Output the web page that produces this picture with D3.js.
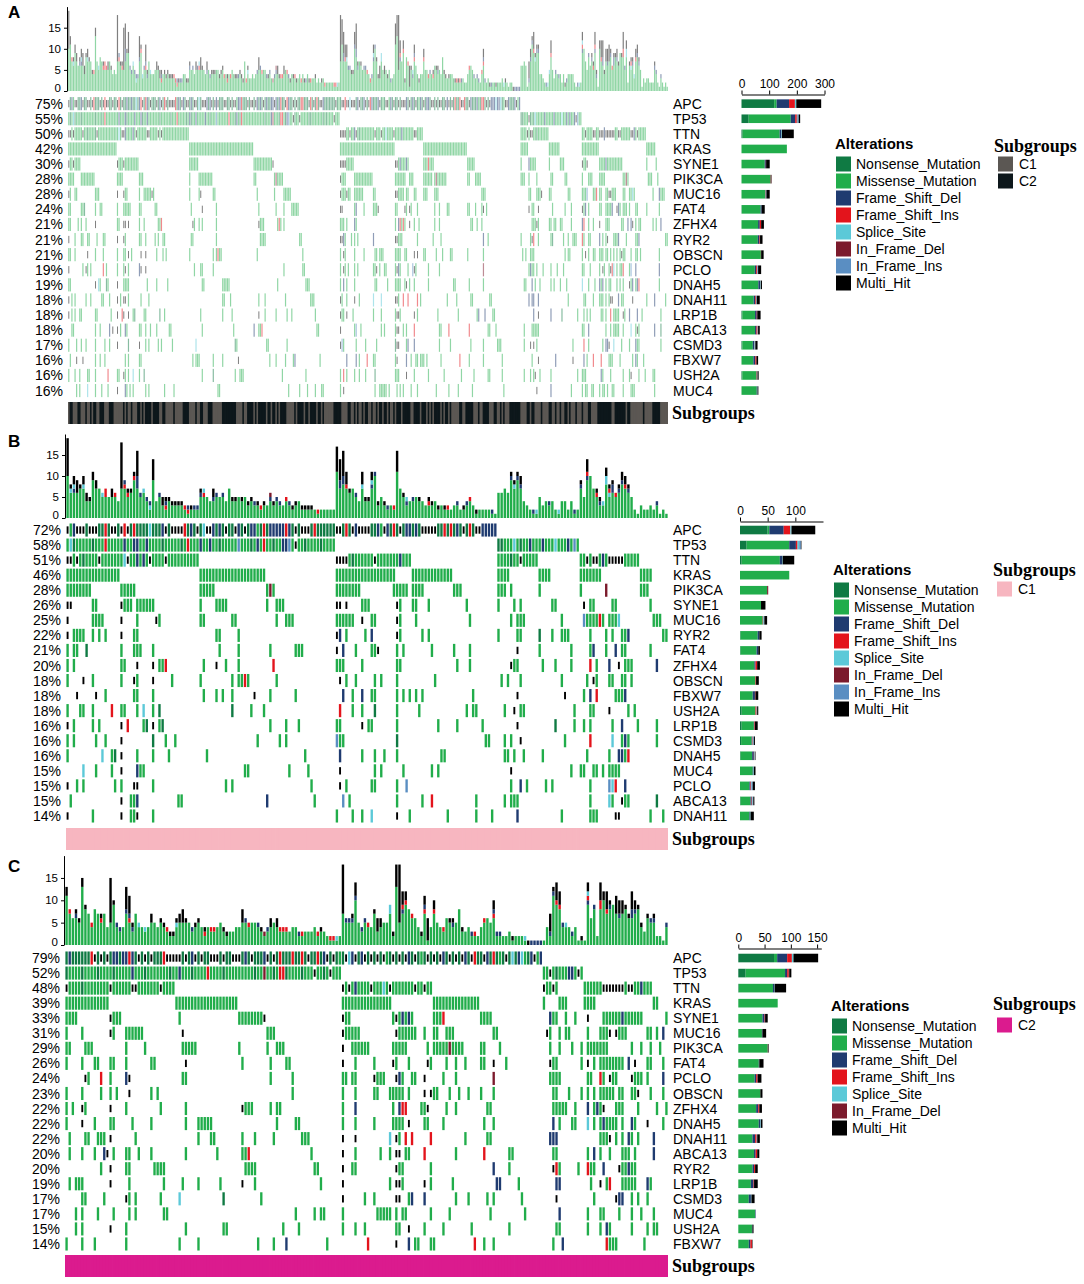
<!DOCTYPE html>
<html>
<head>
<meta charset="utf-8">
<script src="https://cdnjs.cloudflare.com/ajax/libs/d3/7.8.5/d3.min.js"></script>
<style>
body { margin: 0; background: #fff; }
text { font-family: "Liberation Sans", Arial, sans-serif; fill: #000; }
</style>
</head>
<body>
<script>
// variant classes in legend / stacking order
let varCodes = ["n", "g", "b", "r", "c", "d", "i", "m"];
let varNames = ["Nonsense_Mutation", "Missense_Mutation", "Frame_Shift_Del", "Frame_Shift_Ins",
  "Splice_Site", "In_Frame_Del", "In_Frame_Ins", "Multi_Hit"];
let varColors = ["#0f7a43", "#21ad4b", "#1f3b70", "#e3141c", "#5cc9d8", "#7b1a2c", "#5a8ec2", "#000000"];

let genesA = ["APC", "TP53", "TTN", "KRAS", "SYNE1", "PIK3CA", "MUC16", "FAT4", "ZFHX4", "RYR2",
  "OBSCN", "PCLO", "DNAH5", "DNAH11", "LRP1B", "ABCA13", "CSMD3", "FBXW7", "USH2A", "MUC4"];
let pctA = [75, 55, 50, 42, 30, 28, 28, 24, 21, 21, 21, 19, 19, 18, 18, 18, 17, 16, 16, 16];

let genesB = ["APC", "TP53", "TTN", "KRAS", "PIK3CA", "SYNE1", "MUC16", "RYR2", "FAT4", "ZFHX4",
  "OBSCN", "FBXW7", "USH2A", "LRP1B", "CSMD3", "DNAH5", "MUC4", "PCLO", "ABCA13", "DNAH11"];
let pctB = [72, 58, 51, 46, 28, 26, 25, 22, 21, 20, 18, 18, 18, 16, 16, 16, 15, 15, 15, 14];

let genesC = ["APC", "TP53", "TTN", "KRAS", "SYNE1", "MUC16", "PIK3CA", "FAT4", "PCLO", "OBSCN",
  "ZFHX4", "DNAH5", "DNAH11", "ABCA13", "RYR2", "LRP1B", "CSMD3", "MUC4", "USH2A", "FBXW7"];
let pctC = [79, 52, 48, 39, 33, 31, 29, 26, 24, 23, 22, 22, 22, 20, 20, 19, 17, 17, 15, 14];

// mutated samples per gene (sample index, range a-b, or start:typestring); letter = class, default missense
let rowsB = [
  "0:mgbmmmnmmm 10:nnrnmmnmrm 20:nrnnnncnnn 30:bmnmmmmrnb 40:nmncmmbnbn 50:mnnmbnmnbb 60:gnrnbbbbbr 70:bnmnmmmnrn 80:nnnnnmmnrn 90:mbmmmmnnbg 100:mbnrnmnbbn 110:bnmmmmmnnr 120:nrnbnmnrnm 130:mbbbbb",
  "0-84 136-161 1c 2n 8n 12r 18b 21b 22b 25b 30n 36n 38r 42b 45b 48n 54i 58n 60b 62r 65n 68b 69b 70i 72m 75n 80n 136n 137n 141c 143n 146b 150b 154c 158b 160i",
  "0-41 0m 1m 3m 10m 18c 19m 22b 24b 26m 31m 5n 85-108 85m 86m 87m 88m 97m 105b 90n 136-148 143m 140n 162-180 164m 166m 167m 169b 171m 172m 173m 174m 175m",
  "0-16 42-62 85-103 109-121 136-139 149-152 162-168 181-184",
  "0-7 17-21 42-46 63 64d 65 85-92 103-107 109-112 122-124 136-138 140 149 162 170d 181-183",
  "0m 1m 8-9 17m 18-20 22-27 42 47-50 63 66-68 85m 86m 88m 93-95 104m 105 109-110 114 126 136 141 143 153-154 163m 165-166 172-173 184",
  "0m 8-11 17m 22 28m 29 42-43 52-53 66 69-71 85-90 93m 96-97 104m 105 110 127 140 142-144 156 163i 164-167 168r 169 171-173 174c 185-187",
  "0m 2-5 8 10 12 17m 21-22 47-48 54 85m 86b 88 94 96b 104m 105 112 114 136 142-143 149n 153 156-158 165 170 172 175-176 177b 188-189",
  "0 2-3 6n 17 21-23 27 48 54 64 72-74 85m 87b 91 96-97 98m 104 106 115 122 127 142m 149 159 165 166b 170 173b 175-176 184",
  "0 2 17-18 22m 27m 29-30 31r 43 47m 50 54 65r 85-87 93 104-105 123 127 140m 141-142 150 154 159 165r 167 171b 174m 176-178 186b",
  "0 5m 8 17 21m 22 27m 33 42 52 54-55 56r 57 66 86m 88 91 97 99 104 116 137 139 143 156 164 166m 167 171-172 175-176 178",
  "3m 9m 12 21-22 27 43 47 49 52 59m 64 72 87b 90 93b 96-97 104 106 108 110 112 128 142m 157m 163 165b 167r 173-175 176b",
  "0 4-5 8 14r 17-18 22 24c 27 29n 52n 58 62 86r 90 93 97n 104 111 126 128-129 138 141m 143-144 160 165-166 171m 177 179",
  "0m 2 8 10 17m 19r 24 25n 27m 29 30n 64 69 73 85-86 93m 95-96 104 117 123 131 142m 154n 160 163 165 172 175b 180 186",
  "0 2 9 12 17m 27n 31 34 60 67 69 85i 86-87 104n 132-133 138 140 143m 157 165r 172c 175 176b 177 186",
  "0 11c 14 15n 17m 22 27 32 44 75 86b 93 97 100 104 118-119 138-139 141 144 150 164 171 174b 175b 176 177r",
  "5c 9 14 17m 22b 23-24 56-57 70 76 86m 97 99 106 115 117 140m 159 162-163 166-167 169 171-174",
  "0m 3 5 15 17 21m 22m 27 50 52 77 86m 88 96-97 104 107i 140 143b 145 151 153 165 171i 172c 173r 176b",
  "1 17m 20-21 22b 35-36 63b 78 87i 89 104 112 115r 129 138 140-142 165 171c 172 175m 176-177 186n",
  "0m 8 17m 20-21 22m 27 85 90 93 96c 104m 108 120 129 134 142b 156 165-167 173m 174m 184 188"
];

let rowsC = [
  "0:nbnnnnnnrm 10:nmnmnbbnbb 20:rbnmnmnmnn 30:nrmmmmmnmn 40:bmnmnnmmmn 50:mnnmmmnbnm 60:nnnbmnmnrn 70:nnrnnrnmnn 80:rnbmnmngnm 90:cbmnbmnmnm 100:nmgnmnmnmb 110:nmngnmnmnm 120:bnmnmnmbnm 130:rnnmbnrngn 140:mncnbcgnbm 150:gb",
  "0-87 152-164 0n 5n 10n 15n 21b 25n 33n 36b 40n 45r 50n 60n 63d 66n 68r 69r 70n 75n 79m 82n 84m 154m 156n 160b 161b 163m",
  "0-34 0m 14m 21m 22m 30m 5n 88-116 88m 90m 92b 97m 101c 103m 111m 114m 152-156 152m 155m 165-186 171m 172m 173m 174m 175m 176m 177m 179m 180m 183b",
  "0-13 35-54 88-103 117-131 152 157-159 165-168 187-188",
  "0-3 14m 15-17 36 55-62 63m 88m 89-90 104 105m 106 107b 108 109b 110 117-119 120r 132-135 154b 155-156 159 162 166m 171-176 177b 178-183 191",
  "0 5 14m 15 19-24 37m 64-66 88m 89-93 105m 106-111 114 117-118 121-123 136-137 153m 154 157 159-160 166 170-172 173m 175m 176-178 185-186 188 190b",
  "0-1 6-8 19 25 37-41 55 64 67-69 88m 91-96 104-108 115 117-121 122d 123-126 132-133 138 154 157 161 164 166-172 180 183 186 189",
  "0 5 9-10 14-15 19 27-28 38m 56 65 70-71 88m 92 98 104m 105 109 115m 116 121 124 127 132-133 136m 140 154m 155-156 164 166m 168 170-177 179b 181m 185-186 190",
  "6m 7 11r 14 19b 20m 37-38 65 72 88-89 91-92 98m 99-101 105m 106b 107 110-111 114m 120 124 136d 154-157 166-167 170r 171 173m 174-175 180m 181-183 185 190b",
  "0 5 11 14 16 20m 27 29 72 88 92 98-99 103-107 109 114m 116m 117-118 122 125 128 132 136 155-156 160 164 166 168 170-174 176-177 180-181 182m 186 190",
  "0 2 5m 6 14m 19 30 38 56m 57-59 65 67-68 88 92b 104 106b 107r 108r 113-114 115m 121 124 134-135 155-159 162 166b 168 169b 170 171m 175-177 182 188 191",
  "0 5m 9 14-15 21 27 38 42-46 67 73-74 88 92 98 104-107 109m 114-115 120 133 136 155b 157 161-162 166c 168 170 171b 172-175 177 180b 181 185m 190",
  "1 6-7 10-12 14m 22 42 46-47 56 60 66 75-77 88m 92m 103c 105m 106 108r 110r 116r 127 134-135 154b 155b 156b 170-172 173m 175 177 179b 180 182 187b",
  "1 5 9 12b 13m 15 19-20 23 27 38 48 56-57 58r 78 88m 92 100 103 105m 106m 108-109 114r 124 133r 141-142 155-156 166 168b 170 173 177-179 181 187b",
  "11 14m 19-20 28-31 57-60 79-80 88m 91-92 105m 106-107 116 136b 141 155m 156r 157 163 166r 167-168 171b 176m 177-178 179b 180-181",
  "1 3-5 14m 20 31 37 42 49 56m 60 81 88m 103 105m 106m 107 114m 116 123 137b 138b 144 156b 157b 167 170m 172 173r 177-180 181 185b 186",
  "5-6 12 19m 20 22 30 36c 50n 62 88m 95 98 105m 106m 109 110b 114b 124 128 134 136 145 156m 168 175m 176b 177b 180 182 185",
  "3 5 10 15 20 22 31-32 73 79 81-82 88 99-103 105 107-108 116 122 135 146 157b 166 170-171 176 180 183 187",
  "3 5 14m 19 38 50-51 69 74 88 92 95 105-106 109m 114 120 129 141 156-157 166 170 172b 173 180 185 187-188",
  "0 5 9 19 36 42 61 66 70b 83 96r 105m 109b 111-112 116-117 130r 133 136 155 158b 172r 173-175 184"
];

// mutations per sample (top bars), class letter + count, bottom to top
let tmbB = [
  "g10m9 g6c1m1 g6b1c1m2 g6m3 g7m1 g7c1m2 g4m2 g4m1 g9m2 g7m2",
  "g7 g5c1 g5r2 g5 g5m2 g5r1 g4 g7m11 g7r1b1 g5r1m1",
  "g6m1 g9r1m1 g7b3m6 g5b1 g6c1 g4b1 g2c1b1 g9m5 g4 g5b1",
  "g3m2 g2r1b1m1 g4m1 g3m1 g3m1 g3m1 g3m1 g2r1 g1r1b1 g2m1",
  "g2b1 g2b1 g5b1m1 g5r1c1 g5 g4 g4b1m2 g5b1 g5 g5b1",
  "g4 g7 g4m1 g4m1 g5 g4m1 g5 g3m1 g4m1 g3b1",
  "g3m1 g2r1 g3m1 g3 g4b1d1 g3m1 g4b1 g3b1 g3 g4r1",
  "g3b1 g2m1 g3m1 g4 g2m1 g2m1 g2m1 g2m1 g2 g1r1",
  "g2 g2 g2 g2 g2 g11m6 g7b2m5 g8b2m6 g7r1m3 g6m1",
  "g7 g5b1 g4 g7c1m3 g4m1 g4m1 g7b1c1m2 g10b1 g3m1 g5",
  "g3m1 g2b1 g3 g2r1 g11m5 g7 g5m1 g3b1c1 g4 g4b1",
  "g5 g4m1 g4 g3 g3r1m1 g3m1 g4 g2m1 g3 g2m1",
  "g2r1 g2 g3 g3b1 g2 g2m1 g3b1 g4r1 g3 g1m1",
  "g2 g2 g2 g2 g1b1 g1 g6 g6 g7 g6",
  "g9b1m1 g7c1m1 g9b1m1 g7b1m2 g4 g3 g2 g1b1 g1c1 g5",
  "g3 g4 g3b1 g4 g2 g1c1 g4 g4 g2 g4",
  "g1b1 g2 g7b1m1 g5 g9b1r1m3 g10 g7 g5r1m1 g3b1m1 g3c1",
  "g8c2m2 g5c1r1m1 g6b2m1 g5r1 g6b1m1 g8b1m2 g7r1m2 g6b1m1 g5 g2",
  "g1 g3 g2 g2 g3 g2 g3b1 g1 g2 g1"
].join(" ").split(" ");

let tmbC = [
  "g11m2 g7r1 g6 g6b1m1 g5m1 g13m2 g8m1 g7 g4r1 g8",
  "g7 g5r1m1 g7 g4 g5m10 g9m1 g4b1 g3b1 g4 g7b1m5",
  "g5r1b1m4 g3b1m1 g7 g4c1 g4 g3c1 g4 g5m2 g5 g4",
  "g5m1 g4m1 g3r1 g2m1 g2m1 g4c1m1 g5m2 g5m3 g5m1 g5",
  "g3b1 g4m1 g5m1 g4 g2r1m1 g4 g3r1 g3r1 g4 g5",
  "g3m1 g2m1 g3 g3 g4 g4 g5m3 g5b1 g4r1 g5",
  "g5 g4b1 g3m1 g2d1 g3b1 g4m2 g5 g4m2 g3r1 g3r1",
  "g3r1 g3 g4 g4 g2b1 g2r1 g3 g3 g3 g4",
  "g2r1 g3m1 g3 g2 g1r1 g1r1 g1c1 g2 g7m11 g5b1",
  "g5b1 g5b1m1 g10b1m3 g5 g3b1 g5b1 g4r1 g4 g7m1 g3m3",
  "g4m2 g5 g5 g7c2 g2m1 g13m5 g5m13 g7b1r1m3 g9r1m2 g8",
  "g6r1 g6 g4 g2m1 g7r1b1m2 g1m5 g4 g7r1m2 g5 g4",
  "g3r1 g6 g5m1 g4b1m1 g5 g8 g3m1 g3 g4 g2b1",
  "g2r1 g2 g4 g5r1 g6 g5 g6r1b1m2 g2b1 g2b1 g2",
  "g2 g3 g1m1 g2 g2 g2 g1c1 m1 b1 b1",
  "b1 b1 g1 g4 g2b1m4 g11b1m1 g9r1m4 g8r1m3 g4b1 g4c1",
  "g4 g2b1 g4 g1 g1m1 g1 g9b1r1c1m2 g6 g8b1 g2",
  "g8r2m4 g10m2 g7r1m4 g8b1m1 g9 g7m4 g6b1m3 g7m3 g8m1 g6m1",
  "g6b2m4 g7b1m2 g8m1 g4m1 g3 g6m1 g5b1 g5b1m1 g2 g2",
  "g1 g4b1"
].join(" ").split(" ");

let topTicks = [0, 5, 10, 15];
let sideTicksA = [0, 100, 200, 300];
let sideTicksB = [0, 50, 100];
let sideTicksC = [0, 50, 100, 150];

let subNamesA = ["C1", "C2"];
let subColorsA = ["#5b5753", "#0d171b"];
let subNamesB = ["C1"];
let subColorsB = ["#f7b6c0"];
let subNamesC = ["C2"];
let subColorsC = ["#db1b8e"];

let w = 1084;
let h = 1284;

let color = d3.scaleOrdinal().domain(varCodes).range(varColors);

let svg = d3.select("body")
  .append("svg")
  .attr("width", w)
  .attr("height", h);

function parseRow(str, n) {
  let row = new Array(n).fill(null);
  str.trim().split(/\s+/).forEach(function(tok) {
    let m;
    if ((m = tok.match(/^(\d+):([a-z]+)$/))) {
      for (let k = 0; k < m[2].length; k++) {
        if (+m[1] + k < n) row[+m[1] + k] = m[2][k];
      }
    } else if ((m = tok.match(/^(\d+)-(\d+)([a-z]?)$/))) {
      for (let k = +m[1]; k <= +m[2] && k < n; k++) row[k] = m[3] || "g";
    } else if ((m = tok.match(/^(\d+)([a-z]?)$/))) {
      if (+m[1] < n) row[+m[1]] = m[2] || "g";
    }
  });
  return row;
}

function parseTmb(str) {
  return str.match(/[a-z]\d+/g).map(t => ({ t: t[0], v: +t.slice(1) }));
}

function buildSamples(genes, rowStrs, tmbStrs, sub) {
  let n = tmbStrs.length;
  let rows = rowStrs.map(s => parseRow(s, n));
  return d3.range(n).map(function(i) {
    let types = {};
    genes.forEach(function(gn, gi) {
      if (rows[gi][i]) types[gn] = rows[gi][i];
    });
    return { sub: sub, types: types, tmb: parseTmb(tmbStrs[i]) };
  });
}

let samplesB = buildSamples(genesB, rowsB, tmbB, "C1");
let samplesC = buildSamples(genesC, rowsC, tmbC, "C2");

// combined cohort, sorted the oncoplot way: by mutation status gene after gene
let samplesA = samplesB.concat(samplesC).map((s, k) => Object.assign({ k: k }, s));
samplesA.sort(function(a, b) {
  for (let gn of genesA) {
    let ha = a.types[gn] ? 1 : 0;
    let hb = b.types[gn] ? 1 : 0;
    if (ha !== hb) return hb - ha;
  }
  return a.k - b.k;
});

function drawPanel(p) {
  let g = svg.append("g");
  let n = p.samples.length;

  let x = d3.scaleBand()
    .domain(d3.range(n))
    .range([p.x0, p.x1]);
  let sw = x.bandwidth();

  let rowY = d3.scaleBand()
    .domain(p.genes)
    .range([p.rowTop, p.rowTop + p.rowStep * p.genes.length])
    .paddingInner(0.13)
    .paddingOuter(0.065);
  let cellH = rowY.bandwidth();

  g.append("text")
    .attr("x", 8)
    .attr("y", p.letterY)
    .attr("font-size", 17)
    .attr("font-weight", "bold")
    .text(p.letter);

  //top barplot
  let y = d3.scaleLinear()
    .domain([0, 20])
    .range([p.base, p.base - 20 * p.ppu]);

  let segs = [];
  p.samples.forEach(function(s, i) {
    let acc = 0;
    s.tmb.forEach(function(d) {
      segs.push({ i: i, t: d.t, y0: acc, y1: acc + d.v });
      acc += d.v;
    });
  });

  g.append("g").selectAll("rect")
    .data(segs)
    .join("rect")
    .attr("x", d => x(d.i) + sw * 0.12)
    .attr("width", sw * 0.76)
    .attr("y", d => y(d.y1))
    .attr("height", d => y(d.y0) - y(d.y1))
    .attr("fill", d => color(d.t))
    .attr("opacity", p.fade);

  let ax = g.append("g")
    .attr("transform", "translate(" + (p.x0 - 1) + ",0)")
    .call(d3.axisLeft(y).tickValues(topTicks).tickSize(3).tickSizeOuter(0));
  ax.selectAll("text")
    .attr("font-size", 11.5)
    .attr("font-family", "Liberation Sans, Arial, sans-serif")
    .filter(d => d === 0)
    .attr("dy", "0.02em");

  //mutation matrix
  let cells = [];
  p.genes.forEach(function(gn) {
    p.samples.forEach(function(s, i) {
      if (s.types[gn]) cells.push({ gn: gn, i: i, t: s.types[gn] });
    });
  });
  let gap = Math.min(0.9, sw * 0.25);

  g.append("g").selectAll("rect")
    .data(cells)
    .join("rect")
    .attr("x", d => d.t === "m" ? x(d.i) + sw * 0.2 : x(d.i) + gap / 2)
    .attr("width", d => d.t === "m" ? Math.max(1, sw * 0.6) : sw - gap)
    .attr("y", d => rowY(d.gn) + (d.t === "m" ? cellH * 0.22 : 0))
    .attr("height", d => d.t === "m" ? cellH * 0.56 : cellH)
    .attr("fill", d => color(d.t))
    .attr("opacity", p.fade);

  g.append("g").selectAll("text")
    .data(p.genes)
    .join("text")
    .attr("x", p.x0 - 5)
    .attr("y", d => rowY(d) + cellH / 2)
    .attr("dy", "0.36em")
    .attr("text-anchor", "end")
    .attr("font-size", 14)
    .text((d, k) => p.pct[k] + "%");

  g.append("g").selectAll("text")
    .data(p.genes)
    .join("text")
    .attr("x", p.x1 + 5)
    .attr("y", d => rowY(d) + cellH / 2)
    .attr("dy", "0.36em")
    .attr("font-size", 14)
    .text(d => d);

  //subgroup track
  let subColor = d3.scaleOrdinal().domain(p.subNames).range(p.subColors);
  g.append("g").selectAll("rect")
    .data(p.samples)
    .join("rect")
    .attr("x", (_, i) => x(i))
    .attr("width", (_, i) => i === n - 1 ? sw : sw + 0.8)
    .attr("y", p.subY)
    .attr("height", 22)
    .attr("fill", d => subColor(d.sub));

  g.append("text")
    .attr("x", p.x1 + 4)
    .attr("y", p.subY + 11)
    .attr("dy", "0.35em")
    .attr("font-size", 18)
    .attr("font-weight", "bold")
    .style("font-family", "Liberation Serif, Times New Roman, serif")
    .text("Subgroups");

  //side barplot: samples per gene and class
  let counts = p.genes.map(function(gn) {
    let c = { gene: gn };
    varCodes.forEach(t => c[t] = 0);
    p.samples.forEach(function(s) {
      if (s.types[gn]) c[s.types[gn]]++;
    });
    return c;
  });
  let stack = d3.stack().keys(varCodes)(counts);

  let sx = d3.scaleLinear()
    .domain([0, p.sideMax])
    .range([p.sx0, p.sx0 + 83]);

  g.append("g").selectAll("g")
    .data(stack)
    .join("g")
    .attr("fill", d => color(d.key))
    .selectAll("rect")
    .data(d => d)
    .join("rect")
    .attr("x", d => sx(d[0]))
    .attr("width", d => sx(d[1]) - sx(d[0]))
    .attr("y", d => rowY(d.data.gene) + cellH / 2 - 4.3)
    .attr("height", 8.6);

  let sax = g.append("g")
    .attr("transform", "translate(0," + p.sideAxisY + ")")
    .call(d3.axisTop(sx).tickValues(p.sideTicks).tickSize(4).tickSizeOuter(0));
  sax.selectAll("text").attr("font-size", 12).attr("font-family", "Liberation Sans, Arial, sans-serif");

  //legends
  let lg = g.append("g");
  lg.append("text")
    .attr("x", p.lx)
    .attr("y", p.ly)
    .attr("dy", "0.35em")
    .attr("font-size", 15)
    .attr("font-weight", "bold")
    .text("Alterations");

  lg.selectAll("rect")
    .data(p.legendCodes)
    .join("rect")
    .attr("x", p.lx + 1)
    .attr("y", (_, k) => p.ly + 12.5 + 17 * k)
    .attr("width", 15)
    .attr("height", 15)
    .attr("fill", d => color(d));

  lg.selectAll("text.item")
    .data(p.legendCodes)
    .join("text")
    .attr("class", "item")
    .attr("x", p.lx + 21)
    .attr("y", (_, k) => p.ly + 20 + 17 * k)
    .attr("dy", "0.36em")
    .attr("font-size", 14)
    .text(d => varNames[varCodes.indexOf(d)]);

  let sg = g.append("g");
  sg.append("text")
    .attr("x", p.sgx)
    .attr("y", p.sgy)
    .attr("dy", "0.35em")
    .attr("font-size", 18)
    .attr("font-weight", "bold")
    .style("font-family", "Liberation Serif, Times New Roman, serif")
    .text("Subgroups");

  sg.selectAll("rect")
    .data(p.subNames)
    .join("rect")
    .attr("x", p.sgx + 4)
    .attr("y", (_, k) => p.sgy + p.sgOff - 7.5 + 17 * k)
    .attr("width", 15)
    .attr("height", 15)
    .attr("fill", d => subColor(d));

  sg.selectAll("text.item")
    .data(p.subNames)
    .join("text")
    .attr("class", "item")
    .attr("x", p.sgx + 25)
    .attr("y", (_, k) => p.sgy + p.sgOff + 17 * k)
    .attr("dy", "0.36em")
    .attr("font-size", 14)
    .text(d => d);
}

drawPanel({
  letter: "A", letterY: 18, samples: samplesA, genes: genesA, pct: pctA, fade: 0.5,
  x0: 68, x1: 668, base: 91, ppu: 4.22, rowTop: 96.1, rowStep: 15.1, subY: 402,
  subNames: subNamesA, subColors: subColorsA,
  sx0: 741.5, sideMax: 300, sideTicks: sideTicksA, sideAxisY: 94.5,
  lx: 835, ly: 144, legendCodes: varCodes, sgx: 994, sgy: 146, sgOff: 18
});

drawPanel({
  letter: "B", letterY: 447, samples: samplesB, genes: genesB, pct: pctB, fade: 1,
  x0: 66, x1: 668, base: 518, ppu: 4.2, rowTop: 522.5, rowStep: 15.05, subY: 828,
  subNames: subNamesB, subColors: subColorsB,
  sx0: 740, sideMax: 150, sideTicks: sideTicksB, sideAxisY: 521.5,
  lx: 833, ly: 570, legendCodes: varCodes, sgx: 993, sgy: 570, sgOff: 19
});

drawPanel({
  letter: "C", letterY: 872, samples: samplesC, genes: genesC, pct: pctC, fade: 1,
  x0: 65, x1: 668, base: 945, ppu: 4.47, rowTop: 950.5, rowStep: 15.05, subY: 1255,
  subNames: subNamesC, subColors: subColorsC,
  sx0: 738.3, sideMax: 158, sideTicks: sideTicksC, sideAxisY: 948.5,
  lx: 831, ly: 1006, legendCodes: ["n", "g", "b", "r", "c", "d", "m"], sgx: 993, sgy: 1004, sgOff: 21
});
</script>
</body>
</html>
